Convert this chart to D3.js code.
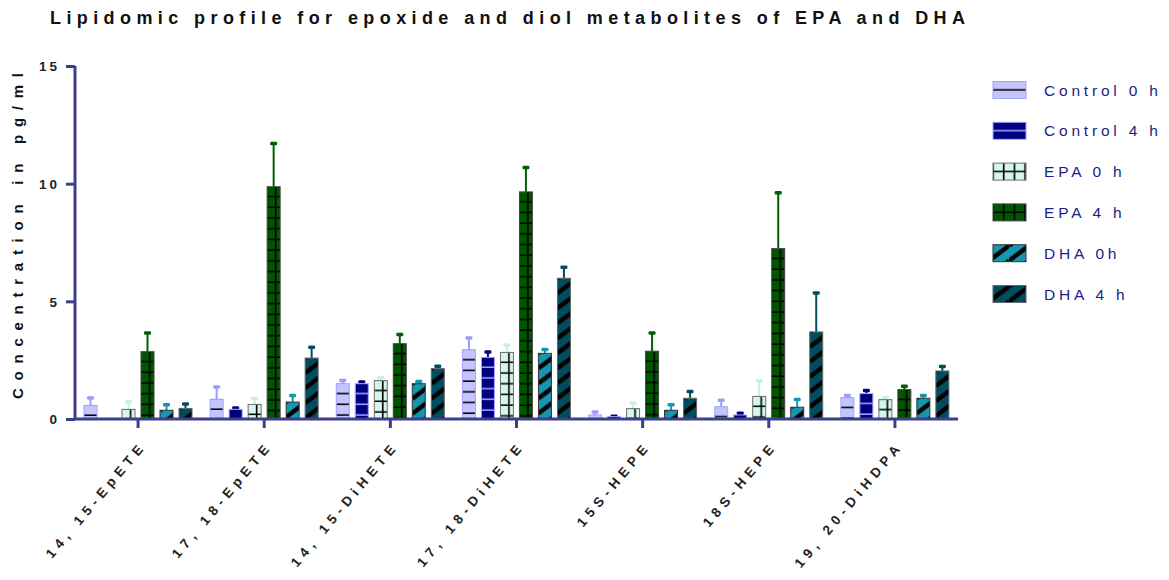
<html>
<head>
<title>Lipidomic profile</title>
<script src="https://d3js.org/d3.v7.min.js"></script>
</head>
<style>
body { margin: 0; background: #fff; }
text { font-family: "Liberation Sans", Arial, sans-serif; }
</style>
<body>

<svg id="chart_svg" width="1169" height="580"></svg>

<script>
// categories (x axis)
var categories = ["14, 15-EpETE", "17, 18-EpETE", "14, 15-DiHETE", "17, 18-DiHETE",
                  "15S-HEPE", "18S-HEPE", "19, 20-DiHDPA"];
var seriesNames = ["Control 0 h", "Control 4 h", "EPA 0 h", "EPA 4 h", "DHA 0h", "DHA 4 h"];

// means, pg/ml
var control0h = [0.58, 0.84, 1.50, 2.94, 0.17, 0.52, 0.91];
var control4h = [0.00, 0.41, 1.50, 2.62, 0.10, 0.17, 1.08];
var epa0h     = [0.41, 0.62, 1.63, 2.83, 0.44, 0.96, 0.82];
var epa4h     = [2.86, 9.87, 3.20, 9.65, 2.88, 7.24, 1.25];
var dha0h     = [0.37, 0.72, 1.50, 2.79, 0.37, 0.50, 0.88];
var dha4h     = [0.45, 2.59, 2.14, 5.98, 0.88, 3.70, 2.04];

// upper error bar lengths
var control0hErr = [0.32, 0.53, 0.15, 0.51, 0.14, 0.29, 0.10];
var control4hErr = [0.00, 0.07, 0.08, 0.24, 0.03, 0.09, 0.14];
var epa0hErr     = [0.33, 0.26, 0.14, 0.33, 0.25, 0.68, 0.09];
var epa4hErr     = [0.81, 1.85, 0.40, 1.05, 0.79, 2.38, 0.15];
var dha0hErr     = [0.25, 0.29, 0.10, 0.17, 0.25, 0.34, 0.13];
var dha4hErr     = [0.20, 0.47, 0.11, 0.48, 0.30, 1.67, 0.20];

var yTicks = [0, 5, 10, 15];

var means = [control0h, control4h, epa0h, epa4h, dha0h, dha4h];
var errs = [control0hErr, control4hErr, epa0hErr, epa4hErr, dha0hErr, dha4hErr];

// look of each series
var styles = [
  {kind: "hline", fill: "#c4c4ff", stroke: "#a3a3ff", line: "#000", err: "#9d9dff"},
  {kind: "hline", fill: "#000080", stroke: "#a3a3ff", line: "#a3a3ff", err: "#000080"},
  {kind: "grid",  fill: "#d4f7ea", stroke: "#6e6e6e", line: "#000", err: "#c6f2e2"},
  {kind: "grid",  fill: "#005500", stroke: "#444",    line: "#000", err: "#006000"},
  {kind: "diag",  fill: "#1597b0", stroke: "#333",    line: "#000", err: "#1597b0"},
  {kind: "diag",  fill: "#004d60", stroke: "#666",    line: "#000", err: "#004d60"}
];

var axisColor = "#3e3f8a";
var svg = d3.select("#chart_svg");
var defs = svg.append("defs");

var x0 = d3.scaleBand().domain(categories).range([75, 958]);
var x1 = d3.scaleBand().domain(d3.range(6)).range([9, 117]).paddingInner(0.316);
var y = d3.scaleLinear().domain([0, 15]).range([419, 66]);

// one pattern per shape so the hatching starts at the top-left of it
function addPattern(id, st, ox, oy) {
  var p;
  if (st.kind == "hline") {
    p = defs.append("pattern").attr("id", id).attr("patternUnits", "userSpaceOnUse")
      .attr("width", 20).attr("height", 10.7)
      .attr("patternTransform", "translate(" + ox + "," + oy + ")");
    p.append("rect").attr("width", 20).attr("height", 10.7).attr("fill", st.fill);
    p.append("line").attr("x1", 0).attr("x2", 20).attr("y1", 10).attr("y2", 10)
      .attr("stroke", st.line).attr("stroke-width", 1.7);
  } else if (st.kind == "grid") {
    p = defs.append("pattern").attr("id", id).attr("patternUnits", "userSpaceOnUse")
      .attr("width", 10.7).attr("height", 10.7)
      .attr("patternTransform", "translate(" + ox + "," + oy + ")");
    p.append("rect").attr("width", 10.7).attr("height", 10.7).attr("fill", st.fill);
    p.append("line").attr("x1", 0).attr("x2", 10.7).attr("y1", 10).attr("y2", 10)
      .attr("stroke", st.line).attr("stroke-width", 1.6);
    p.append("line").attr("x1", 8.5).attr("x2", 8.5).attr("y1", 0).attr("y2", 10.7)
      .attr("stroke", st.line).attr("stroke-width", 1.6);
  } else {
    var W = 20, V = 15;
    p = defs.append("pattern").attr("id", id).attr("patternUnits", "userSpaceOnUse")
      .attr("width", W).attr("height", V)
      .attr("patternTransform", "translate(" + ox + "," + oy + ")");
    p.append("rect").attr("width", W).attr("height", V).attr("fill", st.fill);
    [-1, 0, 1].forEach(function(k) {
      p.append("line").attr("x1", 0).attr("y1", (k + 1) * V).attr("x2", W).attr("y2", k * V)
        .attr("stroke", st.line).attr("stroke-width", 4.5);
    });
  }
}

// bars
var bars = [];
categories.forEach(function(c, i) {
  means.forEach(function(m, j) {
    bars.push({cat: c, i: i, s: j, v: m[i], e: errs[j][i]});
  });
});
bars = bars.filter(function(d) { return d.v > 0; });

bars.forEach(function(d) {
  d.x = x0(d.cat) + x1(d.s);
  d.top = y(d.v);
  addPattern("p" + d.i + "_" + d.s, styles[d.s], d.x, d.top);
});

var errG = svg.append("g");
errG.selectAll("line.err").data(bars).enter().append("line")
  .attr("class", "err")
  .attr("x1", function(d) { return d.x + x1.bandwidth() / 2; })
  .attr("x2", function(d) { return d.x + x1.bandwidth() / 2; })
  .attr("y1", function(d) { return y(d.v); })
  .attr("y2", function(d) { return y(d.v + d.e); })
  .attr("stroke", function(d) { return styles[d.s].err; })
  .attr("stroke-width", 2);
errG.selectAll("rect.cap").data(bars).enter().append("rect")
  .attr("class", "cap")
  .attr("x", function(d) { return d.x + x1.bandwidth() / 2 - 3.5; })
  .attr("y", function(d) { return y(d.v + d.e) - 1.5; })
  .attr("width", 7).attr("height", 3.5).attr("rx", 1.2)
  .attr("fill", function(d) { return styles[d.s].err; });

svg.append("g").selectAll("rect.bar").data(bars).enter().append("rect")
  .attr("class", "bar")
  .attr("x", function(d) { return d.x; })
  .attr("y", function(d) { return d.top; })
  .attr("width", x1.bandwidth())
  .attr("height", function(d) { return y(0) - d.top; })
  .attr("fill", function(d) { return "url(#p" + d.i + "_" + d.s + ")"; })
  .attr("stroke", function(d) { return styles[d.s].stroke; })
  .attr("stroke-width", 1);

// y axis
var yAxis = svg.append("g").attr("transform", "translate(75,0)")
  .call(d3.axisLeft(y).tickValues(yTicks).tickSize(9).tickPadding(6));
yAxis.select(".domain").attr("d", "M0," + y(15) + "V" + y(0));
yAxis.selectAll("path, line").attr("stroke", axisColor).attr("stroke-width", 3);
yAxis.selectAll("text").attr("font-size", 13.5).attr("font-weight", "bold")
  .attr("fill", "#222").style("letter-spacing", "3px").attr("dy", "0.35em");

// x axis
var xAxis = svg.append("g").attr("transform", "translate(0," + y(0) + ")")
  .call(d3.axisBottom(x0).tickSize(9).tickSizeOuter(0));
xAxis.select(".domain").attr("d", "M75,0H958");
xAxis.selectAll("path, line").attr("stroke", axisColor).attr("stroke-width", 3);
xAxis.selectAll("text")
  .attr("font-size", 13.5).attr("font-weight", "bold").attr("fill", "#222")
  .style("letter-spacing", "5.2px")
  .attr("text-anchor", "end")
  .attr("dy", 0)
  .attr("transform", "translate(9,27) rotate(-50)")
  .attr("y", 0).attr("x", 0);

// title
svg.append("text")
  .attr("x", 50).attr("y", 24)
  .attr("font-size", 18).attr("font-weight", "bold").attr("fill", "#111")
  .attr("textLength", 915).attr("lengthAdjust", "spacing")
  .text("Lipidomic profile for epoxide and diol metabolites of EPA and DHA");

// y axis title
svg.append("text")
  .attr("transform", "translate(23,399) rotate(-90)")
  .attr("font-size", 15).attr("font-weight", "bold").attr("fill", "#111")
  .attr("textLength", 326).attr("lengthAdjust", "spacing")
  .text("Concentration in pg/ml");

// legend
var legend = svg.append("g");
seriesNames.forEach(function(name, j) {
  var cy = 90 + j * 40.8;
  var top = cy - 8.5;
  var st = styles[j];
  var ox = 993, oy = top;
  if (st.kind == "hline") oy = top - 1.5;
  if (st.kind == "grid") { ox = 993 + 2.2; oy = top - 1.5; }
  if (st.kind == "diag") { ox = 993 - 4; oy = top + 1; }
  addPattern("leg" + j, st, ox, oy);
  legend.append("rect")
    .attr("x", 993).attr("y", top).attr("width", 33).attr("height", 17)
    .attr("fill", "url(#leg" + j + ")")
    .attr("stroke", st.stroke).attr("stroke-width", 1);
  legend.append("text")
    .attr("x", 1044).attr("y", cy + 5.5)
    .attr("font-size", 15.5).attr("fill", "#1c1c8a")
    .style("letter-spacing", "3.8px")
    .text(name);
});
</script>

</body>
</html>
